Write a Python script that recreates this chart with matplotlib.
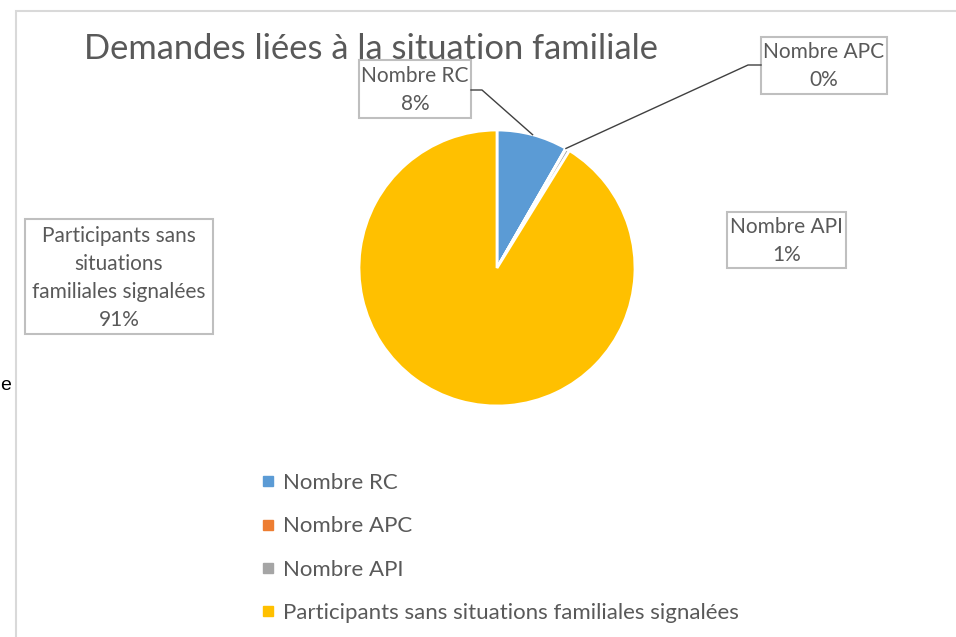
import matplotlib
matplotlib.use('Agg')
import matplotlib.pyplot as plt
from matplotlib.patches import Rectangle
from matplotlib.lines import Line2D
import numpy as np

plt.rcParams['font.family'] = ['Lato', 'DejaVu Sans']

categories = ['Nombre RC', 'Nombre APC', 'Nombre API',
              'Participants sans situations familiales signalées']
values = [8.3, 0.05, 0.45, 91.2]
pct_labels = ['8%', '0%', '1%', '91%']
colors = ['#5b9bd5', '#ed7d31', '#a5a5a5', '#ffc000']
title = 'Demandes liées à la situation familiale'

W, H = 956, 637
fig = plt.figure(figsize=(W / 100, H / 100), dpi=100)
fig.patch.set_facecolor('white')

def fx(x):
    return x / W

def fy(y):
    return 1 - y / H

# chart frame (cut off on the right and bottom)
fig.patches.append(Rectangle((fx(16), fy(700)), fx(1000), (700 - 11) / H,
                             transform=fig.transFigure, fill=False,
                             edgecolor='#d9d9d9', linewidth=1.5))

# pie
cx, cy, r = 497, 268, 138
ax = fig.add_axes([fx(cx - r), fy(cy + r), 2 * r / W, 2 * r / H])
wedges, _ = ax.pie(values, colors=colors, startangle=90, counterclock=False,
                   wedgeprops=dict(edgecolor='white', linewidth=2))
ax.set_xlim(-1, 1)
ax.set_ylim(-1, 1)
ax.axis('off')

grey = '#595959'
fig.text(fx(371), fy(49), title, fontsize=24.8, color=grey, ha='center', va='center')

# data label boxes: (category index, box x0, y0, x1, y1)
boxes = [
    (0, 359, 60, 471, 118),
    (1, 761, 37, 887, 94),
    (2, 727, 212, 846, 268),
    (3, 25, 219, 213, 334),
]
label_lines = {
    0: ['Nombre RC'],
    1: ['Nombre APC'],
    2: ['Nombre API'],
    3: ['Participants sans', 'situations', 'familiales signalées'],
}
for i, x0, y0, x1, y1 in boxes:
    fig.patches.append(Rectangle((fx(x0), fy(y1)), fx(x1 - x0), (y1 - y0) / H,
                                 transform=fig.transFigure, fill=False,
                                 edgecolor='#bfbfbf', linewidth=1.5))
    lines = label_lines[i] + [pct_labels[i]]
    fig.text(fx((x0 + x1) / 2), fy((y0 + y1) / 2 + 1), '\n'.join(lines),
             fontsize=15, color=grey, ha='center', va='center', linespacing=1.5)

# leader lines from labels to the wedge midpoints
leaders = {0: (471, 482, 90), 1: (761, 748, 65)}
for i, (bx, kx, ky) in leaders.items():
    w = wedges[i]
    mid = np.deg2rad((w.theta1 + w.theta2) / 2)
    px = cx + r * np.cos(mid)
    py = cy - r * np.sin(mid)
    fig.lines.append(Line2D([fx(bx), fx(kx), fx(px)], [fy(ky), fy(ky), fy(py)],
                            transform=fig.transFigure, color='#404040', linewidth=1))

# legend
handles = [Line2D([], [], marker='s', linestyle='', color=c, markersize=7)
           for c in colors]
leg = fig.legend(handles, categories, loc='upper left',
                 bbox_to_anchor=(fx(241), fy(453)), frameon=False, fontsize=16,
                 labelspacing=1.05, handlelength=0.6, handletextpad=0.4)
for t in leg.get_texts():
    t.set_color(grey)

# cut-off text outside the frame
fig.text(fx(0), fy(385), 'e', fontsize=14, color='black', ha='left', va='center',
         family='Liberation Sans')

fig.savefig('out.png', dpi=100)
